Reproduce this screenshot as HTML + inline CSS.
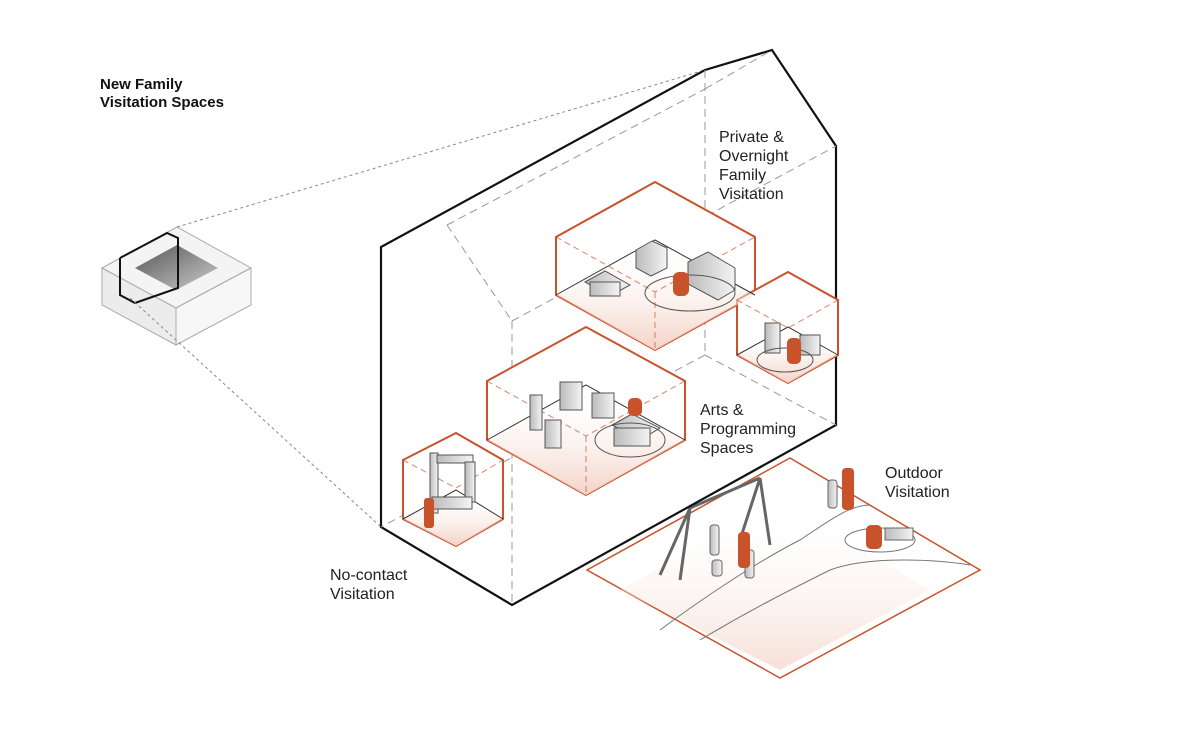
<!DOCTYPE html>
<html><head><meta charset="utf-8"><style>
html,body{margin:0;padding:0;background:#fff;}
svg{display:block;}
text{font-family:"Liberation Sans","DejaVu Sans",sans-serif;font-size:16px;fill:#222;}
.b{font-family:"Liberation Sans",sans-serif;font-weight:bold;font-size:15px;fill:#111;}
</style></head><body>
<svg width="1200" height="731" viewBox="0 0 1200 731" xmlns="http://www.w3.org/2000/svg">
<defs>
<linearGradient id="fl" x1="0" y1="1" x2="0" y2="0"><stop offset="0" stop-color="#f3d2c6"/><stop offset="1" stop-color="#fff" stop-opacity="0"/></linearGradient>
<linearGradient id="ct" x1="0" y1="0" x2="1" y2="1"><stop offset="0" stop-color="#555"/><stop offset="1" stop-color="#ccc"/></linearGradient>
<linearGradient id="gr" x1="0" y1="0" x2="1" y2="0"><stop offset="0" stop-color="#bbb"/><stop offset="1" stop-color="#f4f4f4"/></linearGradient>
</defs>
<text class="b" x="100" y="89">New Family</text>
<text class="b" x="100" y="107">Visitation Spaces</text>

<!-- small box -->
<polygon points="102,268 177,227 251,268 176,308" fill="#f4f4f4" stroke="#aaa"/>
<polygon points="102,268 176,308 176,345 102,305" fill="#ececec" stroke="#aaa"/>
<polygon points="176,308 251,268 251,305 176,345" fill="#f7f7f7" stroke="#aaa"/>
<polygon points="135,268 177,245 218,268 176,290" fill="url(#ct)"/>
<polyline points="120,258 167,233 178,238 178,288 135,303 120,295 120,258" fill="none" stroke="#111" stroke-width="2"/>
<g stroke="#888" stroke-dasharray="3,3" fill="none">
<line x1="177" y1="227" x2="705" y2="70"/>
<line x1="130" y1="298" x2="381" y2="527"/>
</g>

<!-- outdoor ground -->
<polygon points="587,570 790,458 980,570 780,678" fill="#fff" stroke="#c8532a" stroke-width="1.5"/>
<polygon points="620,590 780,500 930,590 780,670" fill="url(#fl)" opacity="0.7"/>
<path d="M660,630 C700,600 760,560 800,540 C830,520 850,505 870,505" stroke="#777" fill="none"/>
<path d="M700,640 C750,610 790,590 830,570 C870,555 940,560 970,565" stroke="#777" fill="none"/>
<ellipse cx="880" cy="540" rx="35" ry="12" fill="#fff" stroke="#777"/>
<!-- swing -->
<g stroke="#666" stroke-width="3" fill="none">
<line x1="660" y1="575" x2="690" y2="508"/><line x1="680" y1="580" x2="690" y2="508"/>
<line x1="740" y1="540" x2="760" y2="478"/><line x1="770" y1="545" x2="760" y2="478"/>
<line x1="690" y1="508" x2="760" y2="478"/>
</g>
<g fill="url(#gr)" stroke="#666">
<rect x="710" y="525" width="9" height="30" rx="3"/><rect x="745" y="550" width="9" height="28" rx="3"/>
<rect x="712" y="560" width="10" height="16" rx="3"/><rect x="828" y="480" width="9" height="28" rx="3"/>
<rect x="885" y="528" width="28" height="12"/>
</g>

<!-- house -->
<polygon points="381,247 705,70 772,50 836,146 836,425 512,605 381,527" fill="#fff" stroke="#111" stroke-width="2.2"/>
<g stroke="#999" stroke-dasharray="8,5" fill="none">
<line x1="512" y1="321" x2="512" y2="605"/>
<line x1="447" y1="225" x2="512" y2="321"/>
<line x1="447" y1="225" x2="705" y2="89"/>
<line x1="705" y1="89" x2="772" y2="50"/>
<line x1="512" y1="321" x2="836" y2="146"/>
<line x1="705" y1="70" x2="705" y2="355"/>
<line x1="705" y1="355" x2="381" y2="527"/>
<line x1="705" y1="355" x2="836" y2="425"/>
</g>

<!-- orange rooms -->
<g stroke="#c8532a" stroke-width="2" fill="#fff">
<polygon points="556,237 655,182 755,237 755,295 655,350 556,295"/>
<polygon points="737,300 788,272 838,300 838,355 788,383 737,355"/>
<polygon points="487,381 586,327 685,381 685,440 586,495 487,440"/>
<polygon points="403,460 456,433 503,460 503,519 456,546 403,519"/>
</g>
<g fill="url(#fl)">
<polygon points="556,295 655,240 755,295 655,350"/>
<polygon points="487,440 586,385 685,440 586,495"/>
<polygon points="737,355 788,327 838,355 788,383"/>
<polygon points="403,519 456,490 503,519 456,546"/>
</g>
<g stroke="#333" fill="none" stroke-width="1">
<polyline points="556,295 655,240 755,295"/>
<polyline points="487,440 586,385 685,440"/>
<polyline points="737,355 788,327 838,355"/>
<polyline points="403,519 456,490 503,519"/>
</g>
<g stroke="#c8532a" stroke-dasharray="6,4" fill="none" opacity="0.7">
<polyline points="556,237 655,292 755,237"/><line x1="655" y1="292" x2="655" y2="350"/>
<polyline points="487,381 586,436 685,381"/><line x1="586" y1="436" x2="586" y2="495"/>
<polyline points="737,300 788,328 838,300"/>
<polyline points="403,460 456,488 503,460"/>
</g>
<!-- furniture hints -->
<g fill="url(#gr)" stroke="#555">
<polygon points="636,250 652,241 667,248 667,268 651,276 636,268"/>
<polygon points="688,262 708,252 735,268 735,290 718,300 688,284"/>
<polygon points="585,282 605,271 630,285 610,296"/>
<rect x="590" y="282" width="30" height="14"/>
<rect x="765" y="323" width="15" height="30"/><rect x="800" y="335" width="20" height="20"/>
<rect x="530" y="395" width="12" height="35"/><rect x="560" y="382" width="22" height="28"/>
<rect x="592" y="393" width="22" height="25"/><rect x="545" y="420" width="16" height="28"/>
<polygon points="612,425 632,414 660,428 640,440"/><rect x="614" y="428" width="36" height="18"/>
<rect x="430" y="453" width="8" height="60"/><rect x="437" y="455" width="36" height="8"/>
<rect x="465" y="462" width="10" height="40"/>
<rect x="432" y="497" width="40" height="12"/>
</g>
<ellipse cx="690" cy="293" rx="45" ry="18" fill="none" stroke="#555"/>
<ellipse cx="630" cy="440" rx="35" ry="17" fill="none" stroke="#555"/>
<ellipse cx="785" cy="360" rx="28" ry="12" fill="none" stroke="#555"/>
<g fill="#c8532a">
<rect x="673" y="272" width="16" height="24" rx="6"/><rect x="787" y="338" width="14" height="26" rx="5"/>
<rect x="628" y="398" width="14" height="18" rx="5"/><rect x="424" y="498" width="10" height="30" rx="3"/>
<rect x="738" y="532" width="12" height="36" rx="4"/><rect x="842" y="468" width="12" height="42" rx="4"/>
<rect x="866" y="525" width="16" height="24" rx="5"/>
</g>

<text x="719" y="142">Private &amp;</text>
<text x="719" y="161">Overnight</text>
<text x="719" y="180">Family</text>
<text x="719" y="199">Visitation</text>
<text x="700" y="415">Arts &amp;</text>
<text x="700" y="434">Programming</text>
<text x="700" y="453">Spaces</text>
<text x="885" y="478">Outdoor</text>
<text x="885" y="497">Visitation</text>
<text x="330" y="580">No-contact</text>
<text x="330" y="599">Visitation</text>
</svg>
</body></html>
